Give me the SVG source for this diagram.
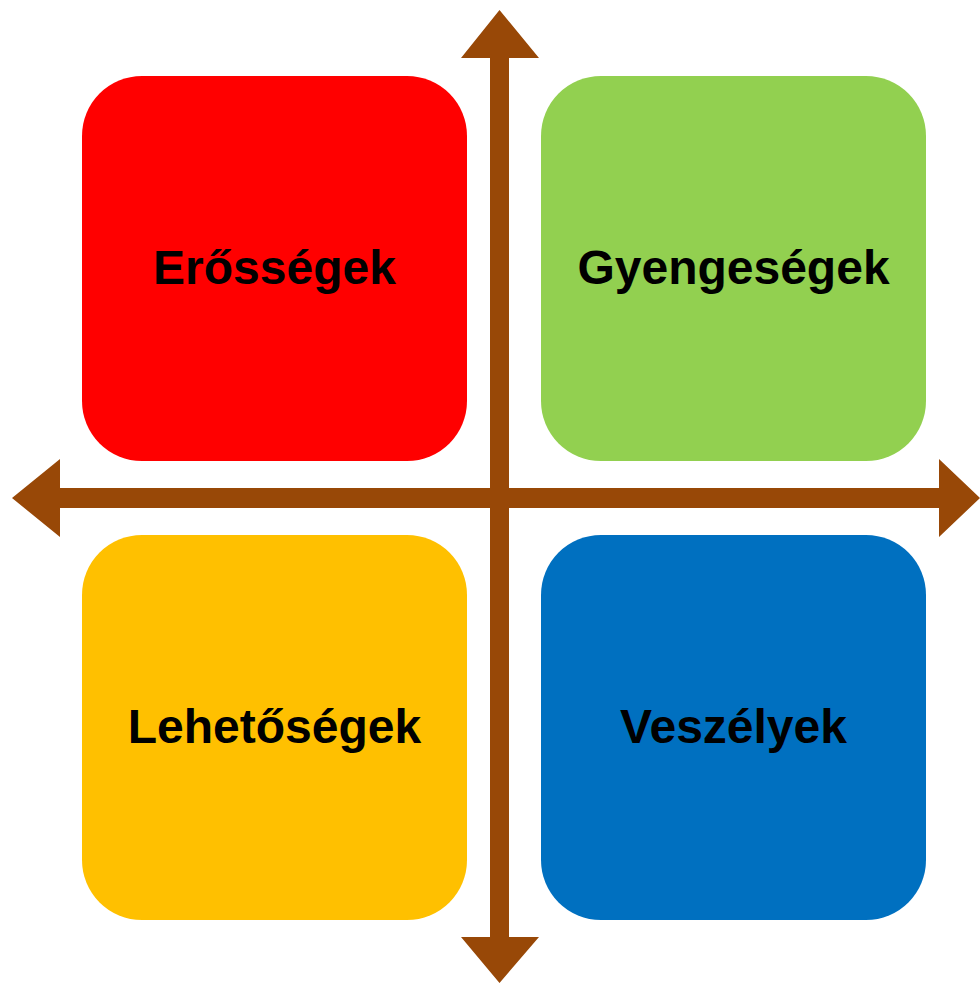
<svg xmlns="http://www.w3.org/2000/svg" width="980" height="983" viewBox="0 0 980 983">
<style>
.lbl{font-family:"Liberation Sans",Arial,sans-serif;font-weight:bold;font-size:48px;fill:#000;text-anchor:middle}
.ax{fill:#984807}
</style>
<rect width="980" height="983" fill="#fff"/>
<g id="strengths"><rect x="82" y="76" width="385" height="385" rx="60" fill="#FF0000"/><text class="lbl" x="274.5" y="283.5">Erősségek</text></g>
<g id="weaknesses"><rect x="541" y="76" width="385" height="385" rx="60" fill="#92D050"/><text class="lbl" x="733.5" y="283.5">Gyengeségek</text></g>
<g id="opportunities"><rect x="82" y="535" width="385" height="385" rx="60" fill="#FFC000"/><text class="lbl" x="274.5" y="742.5">Lehetőségek</text></g>
<g id="threats"><rect x="541" y="535" width="385" height="385" rx="60" fill="#0070C0"/><text class="lbl" x="733.5" y="742.5">Veszélyek</text></g>
<g id="axes">
<polygon class="ax" points="499.5,10 539,58 509,58 509,488 939,488 939,459 980,498 939,537 939,508 509,508 509,937 539,937 499.5,983 461,937 490,937 490,508 60,508 60,537 12,498 60,459 60,488 490,488 490,58 461,58"/>
</g>
</svg>
